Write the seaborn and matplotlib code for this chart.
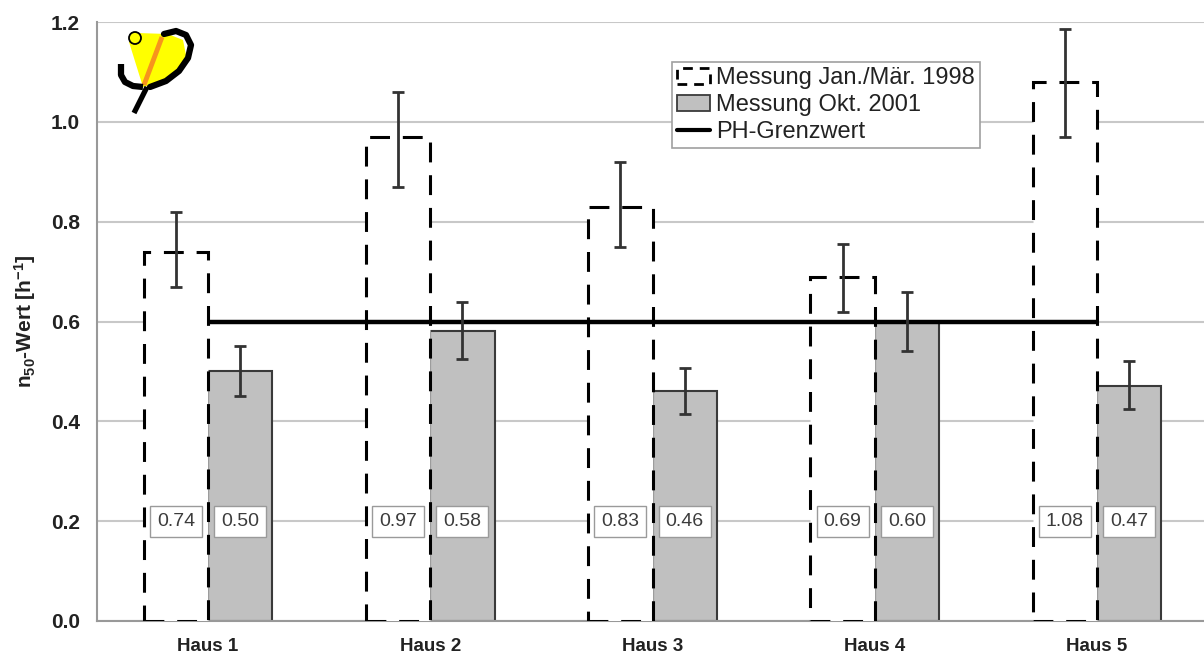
import numpy as np
import pandas as pd
import matplotlib
matplotlib.use("Agg")
import matplotlib.pyplot as plt
from matplotlib.patches import Patch, Polygon, Circle
from matplotlib.lines import Line2D
import seaborn as sns

categories = ["Haus 1", "Haus 2", "Haus 3", "Haus 4", "Haus 5"]
series_names = ["Messung Jan./Mär. 1998", "Messung Okt. 2001"]
values_1998 = [0.74, 0.97, 0.83, 0.69, 1.08]
values_2001 = [0.50, 0.58, 0.46, 0.60, 0.47]
err_low_1998 = [0.67, 0.87, 0.75, 0.62, 0.97]
err_high_1998 = [0.82, 1.06, 0.92, 0.755, 1.185]
err_low_2001 = [0.45, 0.525, 0.415, 0.54, 0.425]
err_high_2001 = [0.55, 0.64, 0.507, 0.66, 0.52]
ph_limit = [0.6, 0.6, 0.6, 0.6, 0.6]
ph_name = "PH-Grenzwert"
label_y = 0.2
y_ticks = [0.0, 0.2, 0.4, 0.6, 0.8, 1.0, 1.2]

df = pd.DataFrame({
    "Haus": categories * 2,
    "Serie": [series_names[0]] * 5 + [series_names[1]] * 5,
    "Wert": values_1998 + values_2001,
})

sns.set_theme(style="white")
plt.rcParams["font.family"] = ["Liberation Sans", "DejaVu Sans"]
plt.rcParams["mathtext.fontset"] = "custom"
plt.rcParams["mathtext.rm"] = "Liberation Sans:bold"
plt.rcParams["mathtext.it"] = "Liberation Sans:bold"
plt.rcParams["mathtext.bf"] = "Liberation Sans:bold"

fig = plt.figure(figsize=(12.04, 6.59), dpi=100)
ax = fig.add_axes([97 / 1204, 38 / 659, 1111 / 1204, 599 / 659])

sns.barplot(data=df, x="Haus", y="Wert", hue="Serie", order=categories,
            hue_order=series_names, width=0.578, errorbar=None, legend=False,
            ax=ax, zorder=2)

bars = [p for p in ax.patches]
bars_1998 = bars[:5]
bars_2001 = bars[5:10]
for p in bars_1998:
    p.set_facecolor("white")
    p.set_edgecolor("black")
    p.set_linewidth(2.2)
    p.set_linestyle((0, (6.5, 4.2)))
    p.set_zorder(3)
for p in bars_2001:
    p.set_facecolor("#c0c0c0")
    p.set_edgecolor("#3a3a3a")
    p.set_linewidth(1.5)
    p.set_zorder(2)

def centers(ps):
    return [p.get_x() + p.get_width() / 2 for p in ps]

c98 = centers(bars_1998)
c01 = centers(bars_2001)

for cx, v, lo, hi in [(c98, values_1998, err_low_1998, err_high_1998),
                      (c01, values_2001, err_low_2001, err_high_2001)]:
    v = np.array(v); lo = np.array(lo); hi = np.array(hi)
    ax.errorbar(cx, v, yerr=[v - lo, hi - v], fmt="none", ecolor="#333333",
                elinewidth=2.0, capsize=4.5, capthick=2.0, zorder=5)

ax.plot(np.arange(len(categories)), ph_limit, color="black", lw=3.2,
        solid_capstyle="butt", zorder=4)

for cx, vals in [(c98, values_1998), (c01, values_2001)]:
    for x, v in zip(cx, vals):
        ax.text(x, label_y, f"{v:.2f}", ha="center", va="center",
                fontsize=14, color="#3c3c3c", zorder=6,
                bbox=dict(boxstyle="square,pad=0.36", facecolor="white",
                          edgecolor="#9a9a9a", linewidth=1.0))

ax.set_xlim(-0.5, 4.5)
ax.set_ylim(0, 1.2)
ax.set_yticks(y_ticks)
ax.set_yticklabels([f"{t:.1f}" for t in y_ticks], fontsize=15,
                   fontweight="bold", color="#222222")
ax.set_xticks(np.arange(len(categories)))
ax.set_xticklabels(categories, fontsize=13.5, fontweight="bold", color="#222222")
ax.set_xticks(np.arange(len(categories) + 1) - 0.5, minor=True)
ax.tick_params(axis="x", which="major", length=0, pad=12)
ax.tick_params(axis="x", which="minor", length=4.5, color="#999999", width=1.4,
               direction="out")
ax.tick_params(axis="y", which="major", length=6.5, color="#999999", width=1.4,
               direction="out", pad=6)
ax.set_xlabel("")
ax.set_ylabel(r"n$_{50}$-Wert [h$^{-1}$]", fontsize=15, fontweight="bold",
              color="#222222", labelpad=9)
ax.grid(axis="y", color="#c8c8c8", linewidth=1.5, zorder=0)
ax.set_axisbelow(True)
for s in ["top", "right"]:
    ax.spines[s].set_visible(False)
for s in ["left", "bottom"]:
    ax.spines[s].set_color("#999999")
    ax.spines[s].set_linewidth(1.5)

handles = [
    Patch(facecolor="white", edgecolor="black", linestyle=(0, (3.5, 2.5)), linewidth=2.0),
    Patch(facecolor="#c0c0c0", edgecolor="#3a3a3a", linewidth=1.3),
    Line2D([0], [0], color="black", lw=3.0),
]
leg = ax.legend(handles, series_names + [ph_name], loc="upper left",
                bbox_to_anchor=(0.5176, 0.9332), fontsize=17, frameon=True,
                fancybox=False, edgecolor="#a0a0a0", framealpha=1,
                handlelength=1.4, handleheight=0.65, handletextpad=0.25,
                borderpad=0.22, labelspacing=0.2, borderaxespad=0)
leg.get_frame().set_linewidth(1.2)
for t in leg.get_texts():
    t.set_color("#222222")
leg.set_zorder(7)

# logo overlay
lax = fig.add_axes([0, 0, 1, 1], zorder=10)
lax.set_xlim(0, 1204)
lax.set_ylim(659, 0)
lax.axis("off")
lax.patch.set_alpha(0)
lax.add_patch(Polygon([(129, 42), (137, 33), (168, 34), (183, 40), (186, 55),
                       (179, 70), (163, 82), (143, 87)], closed=True,
                      facecolor="#ffff00", edgecolor="none"))
lax.plot([162, 144], [37, 85], color="#f7941d", lw=3.5, solid_capstyle="butt")
lax.plot([164, 176, 186, 191, 188, 179, 166, 150],
         [34, 31, 35, 45, 58, 71, 81, 87], color="black", lw=4.5,
         solid_capstyle="round")
lax.plot([121, 121, 125, 133, 143], [64, 75, 82, 86, 87], color="black", lw=4.5,
         solid_capstyle="butt")
lax.plot([147, 134], [87, 113], color="black", lw=3.8, solid_capstyle="butt")
lax.add_patch(Circle((135, 38), 6, facecolor="#ffff00", edgecolor="black",
                     linewidth=1.3))

fig.savefig("out.png", dpi=100)
